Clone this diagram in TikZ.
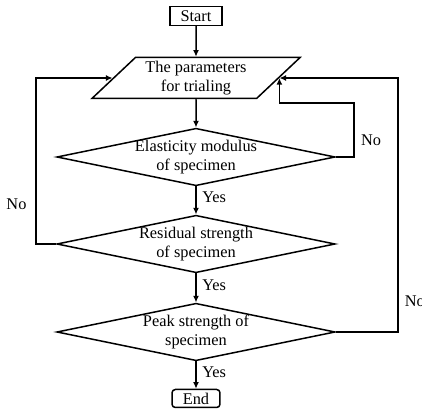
\documentclass[tikz,border=0pt]{standalone}
\usepackage{fontspec}
\setmainfont{Liberation Serif}
\usetikzlibrary{
	arrows.meta,
	positioning,
	shapes.geometric
}

\begin{document}
\begin{tikzpicture}[
  x=0.6pt, y=-0.6pt,
  every node/.style={font=\fontsize{9.8}{11.6}\selectfont},
  terminal/.style={rectangle, draw, line width=0.9pt, inner sep=1pt,
    minimum width=31pt, minimum height=11.4pt},
  entrada/.style={trapezium, trapezium left angle=45, trapezium right angle=135,
    trapezium stretches=true, draw, line width=0.9pt, align=center, inner sep=1pt,
    minimum width=125pt, minimum height=24.6pt},
  decision/.style={diamond, aspect=4.84, draw, line width=0.9pt, align=center, inner sep=-4pt,
    minimum width=167pt, minimum height=34.5pt},
  flecha/.style={-{Latex[length=4pt, width=3.6pt]}, line width=0.9pt}
]
\useasboundingbox (0,0) rectangle (422,411);
\node[terminal] (inicio) at (196,16) {Start};
\node[entrada] (param) at (196,78) {The parameters\\for trialing};
\node[decision] (elast) at (196,157) {Elasticity modulus\\of specimen};
\node[decision] (resid) at (196,244) {Residual strength\\of specimen};
\node[decision] (pico) at (196,332) {Peak strength of\\specimen};
\node[terminal, rounded corners=2pt, minimum width=28.8pt, minimum height=10.8pt] (fin) at (196,398.5) {End};

\draw[flecha] (inicio) -- (param);
\draw[flecha] (param) -- (elast);
\draw[flecha] (elast) -- node[right, pos=0.4]{Yes} (resid);
\draw[flecha] (resid) -- node[right, pos=0.4]{Yes} (pico);
\draw[flecha] (pico) -- node[right, pos=0.4]{Yes} (fin);

% lazos de retorno
\draw[flecha] (resid.west) -- ++(-20,0) |- node[pos=0.12, left=2pt]{No} (param);
\draw[flecha] (elast.east) -| ++(18,-54) -| (param.east);
\node at (371,140) {No};
\draw[flecha] (pico.east) -- ++(62,0) |- (param.east);
\node[right] at (399,301.7) {No};
\end{tikzpicture}
\end{document}
